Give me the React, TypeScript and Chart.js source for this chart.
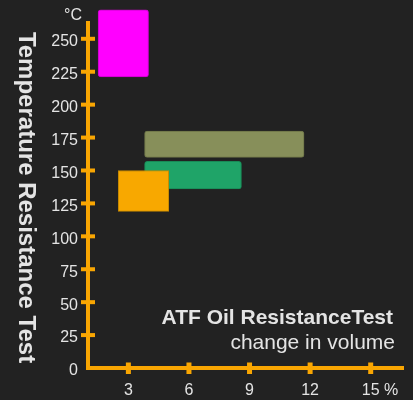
import React, { useEffect, useRef } from 'react';
import { Chart, registerables } from 'chart.js';

Chart.register(...registerables);

// ---- data ----
const seriesNames = ['Series A', 'Series B', 'Series C', 'Series D'];
const volumeStart = [1.5, 3.8, 3.8, 2.5];
const volumeEnd = [4.0, 11.7, 8.6, 5.0];
const tempLow = [221, 160, 136, 119];
const tempHigh = [272, 180, 157, 150];
const yTicks = [0, 25, 50, 75, 100, 125, 150, 175, 200, 225, 250];
const xTicks = [3, 6, 9, 12, 15];
const yRange = [0, 262];
const xRange = [1, 16.6];
const yUnit = '°C';
const xUnit = '%';
const yTitle = 'Temperature Resistance Test';
const noteTitle = 'ATF Oil ResistanceTest';
const noteSubtitle = 'change in volume';

// ---- styles ----
const BG = '#222222';
const AXIS = '#f9a602';
const TEXT = '#e4e4e4';
const FONT = '"Liberation Sans", Arial, Helvetica, sans-serif';
const fillColors = ['#ff00ff', '#878f5a', '#1fa468', '#f8a800'];
const borderColors = ['#c800c8', '#6c7347', '#188a56', '#c48800'];
const radii = [3, 3, 3, 0];

const decorPlugin = {
  id: 'decor',
  beforeDraw(chart: any) {
    const { ctx, width, height } = chart;
    ctx.save();
    ctx.fillStyle = BG;
    ctx.fillRect(0, 0, width, height);
    ctx.restore();
  },
  afterDraw(chart: any) {
    const { ctx, chartArea, scales } = chart;
    const x = scales.x;
    const y = scales.y;
    ctx.save();
    ctx.fillStyle = AXIS;
    yTicks.forEach((v) => {
      if (v === 0) return;
      const py = y.getPixelForValue(v);
      ctx.fillRect(chartArea.left - 7, py - 2, 14, 4);
    });
    xTicks.forEach((v) => {
      const px = x.getPixelForValue(v);
      ctx.fillRect(px - 2.5, chartArea.bottom - 5.5, 5, 11.5);
    });

    ctx.fillStyle = TEXT;
    // units
    ctx.font = `16px ${FONT}`;
    ctx.textAlign = 'right';
    ctx.textBaseline = 'middle';
    ctx.fillText(yUnit, 82, 15.5);
    ctx.textAlign = 'left';
    ctx.fillText(xUnit, 384, 391);

    // note texts
    ctx.textAlign = 'right';
    ctx.textBaseline = 'alphabetic';
    ctx.font = `bold 21px ${FONT}`;
    ctx.fillText(noteTitle, 393, 324);
    ctx.font = `21px ${FONT}`;
    ctx.fillText(noteSubtitle, 395, 349);

    // rotated y title (top to bottom)
    ctx.save();
    ctx.translate(19, 197.5);
    ctx.rotate(Math.PI / 2);
    ctx.font = `bold 24px ${FONT}`;
    ctx.textAlign = 'center';
    ctx.textBaseline = 'alphabetic';
    ctx.fillText(yTitle, 0, 0);
    ctx.restore();

    ctx.restore();
  },
};

export default function App() {
  const ref = useRef<HTMLCanvasElement | null>(null);

  useEffect(() => {
    document.body.style.margin = '0';
    document.body.style.background = BG;
    const canvas = ref.current;
    if (!canvas) return;

    Chart.defaults.font.family = FONT;

    const datasets = seriesNames.map((name, i) => ({
      label: name,
      data: [{ y: (tempLow[i] + tempHigh[i]) / 2, x: [volumeStart[i], volumeEnd[i]] }],
      backgroundColor: fillColors[i],
      borderColor: borderColors[i],
      borderWidth: 1,
      borderSkipped: false,
      borderRadius: radii[i],
      stack: 'all',
      clip: false,
      order: seriesNames.length - i,
      barThickness: (c: any) => {
        const ys = c.chart.scales && c.chart.scales.y;
        if (!ys) return 10;
        return Math.abs(ys.getPixelForValue(tempLow[i]) - ys.getPixelForValue(tempHigh[i]));
      },
    }));

    const chart = new Chart(canvas, {
      type: 'bar',
      data: { datasets } as any,
      options: {
        indexAxis: 'y',
        animation: false,
        responsive: false,
        events: [],
        layout: { padding: { top: 23, right: 10, bottom: 0, left: 0 } },
        plugins: {
          legend: { display: false },
          tooltip: { enabled: false },
          title: { display: false },
        },
        scales: {
          x: {
            type: 'linear',
            min: xRange[0],
            max: xRange[1],
            stacked: false,
            grid: { display: false, drawTicks: false },
            border: { display: true, color: AXIS, width: 4 },
            ticks: { color: TEXT, font: { size: 16, family: FONT }, padding: 13 },
            afterBuildTicks: (s: any) => {
              s.ticks = xTicks.map((v) => ({ value: v }));
            },
            afterFit: (s: any) => {
              s.height = 32;
            },
          },
          y: {
            type: 'linear',
            min: yRange[0],
            max: yRange[1],
            offset: false,
            grid: { display: false, drawTicks: false },
            border: { display: true, color: AXIS, width: 4 },
            ticks: { color: TEXT, font: { size: 16, family: FONT }, padding: 10, labelOffset: 3 },
            afterBuildTicks: (s: any) => {
              s.ticks = yTicks.map((v) => ({ value: v }));
            },
            afterFit: (s: any) => {
              s.width = 88;
            },
          },
        },
      } as any,
      plugins: [decorPlugin],
    });

    return () => chart.destroy();
  }, []);

  return <canvas ref={ref} width={413} height={400} style={{ display: 'block' }} />;
}
